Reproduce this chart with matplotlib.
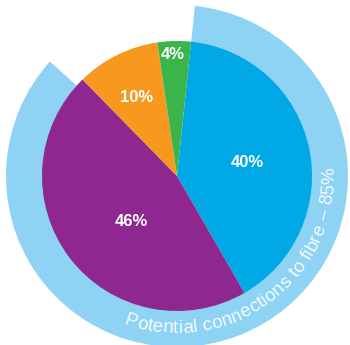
import numpy as np
import matplotlib
matplotlib.use('Agg')
import matplotlib.pyplot as plt
from matplotlib import font_manager

# share of premises by connection type
shares = [40, 46, 10, 4]
colours = ['#00a8e6', '#8e278f', '#f7991e', '#3bb54a']

# share that could be connected to fibre (outer ring)
fibre_share = 85
ring_text = 'Potential connections to fibre \u2013 {}%'.format(fibre_share)

W, H = 350, 345
fig = plt.figure(figsize=(W / 100, H / 100), dpi=100)
ax = fig.add_axes([0, 0, 1, 1])

cx, cy = 177, H - 176
r_pie = 135
r_ring = 171
start = 84

# light blue ring behind the pie
ax.pie([fibre_share, 100 - fibre_share], radius=r_ring, center=(cx, cy),
       startangle=start, counterclock=False, colors=['#8ed3f4', 'none'],
       wedgeprops=dict(width=r_ring - r_pie + 3, linewidth=0))

wedges, texts, pcts = ax.pie(
    shares, radius=r_pie, center=(cx, cy), startangle=start,
    counterclock=False, colors=colours, autopct=lambda p: f'{p:.0f}%',
    wedgeprops=dict(linewidth=0),
    textprops=dict(color='white', fontsize=12, fontweight='bold',
                   family='Liberation Sans'))

# move the percentages to where they sit best inside each slice
label_pos = [(0.52, 0.10), (-0.34, -0.34), (-0.30, 0.585), (-0.03, 0.90)]
for t, (fx, fy) in zip(pcts, label_pos):
    t.set_position((cx + fx * r_pie, cy + fy * r_pie))

# curved caption along the ring, one glyph at a time
fsize = 13.5
fp = font_manager.FontProperties(family='Liberation Sans', size=fsize)
renderer = fig.canvas.get_renderer()
bar_w = renderer.get_text_width_height_descent('|', fp, ismath=False)[0]


def left_edge(s):
    # width of s measured up to a trailing marker so spaces count
    return renderer.get_text_width_height_descent(s + '|', fp, ismath=False)[0] - bar_w


edges = np.array([left_edge(ring_text[:i]) for i in range(len(ring_text) + 1)])
pos = (edges[:-1] + edges[1:]) / 2

r_base = 157
r_mid = 151
a0 = np.radians(-110)
for c, p in zip(ring_text, pos):
    th = a0 + p / r_mid
    ax.text(cx + r_base * np.cos(th), cy + r_base * np.sin(th), c,
            fontproperties=fp, color='#f4fbfe', ha='center', va='baseline',
            rotation=np.degrees(th) + 90, rotation_mode='anchor')

ax.set_xlim(0, W)
ax.set_ylim(0, H)
ax.set_aspect('equal')
ax.axis('off')

fig.savefig('out.png', dpi=100)
